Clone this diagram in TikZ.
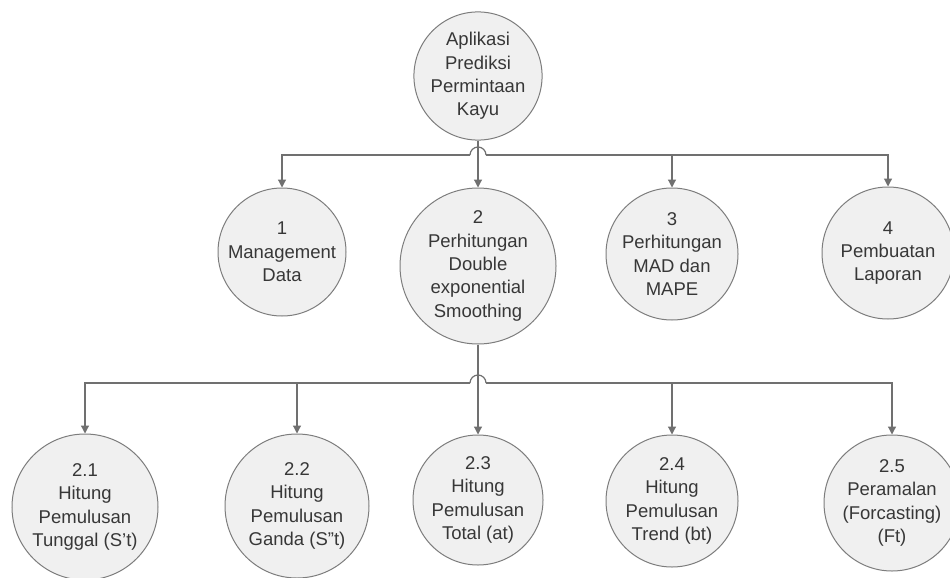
\documentclass[tikz,border=0pt]{standalone}
\usepackage{fontspec}
\setmainfont{Liberation Sans}
\usetikzlibrary{arrows.meta}
\definecolor{linegray}{RGB}{112,112,112}
\definecolor{edgegray}{RGB}{125,125,125}
\definecolor{fillgray}{RGB}{240,240,240}
\definecolor{textgray}{RGB}{55,55,55}
\tikzset{
  proc/.style={circle, draw=edgegray, line width=1pt, fill=fillgray, inner sep=0pt,
    align=center, text=textgray, font=\fontsize{18.5}{23.3}\selectfont},
  conn/.style={draw=linegray, line width=1.2pt, -{Triangle[width=8pt,length=8pt]}},
  busline/.style={draw=linegray, line width=1.2pt},
}
\begin{document}
\begin{tikzpicture}[x=1pt,y=-1pt]
\useasboundingbox (0,0) rectangle (950,578);
\fill[white] (0,0) rectangle (950,578);
% level 0
\node[proc, minimum size=122pt] (root) at (478,76) {Aplikasi\\Prediksi\\Permintaan\\Kayu};
% level 1
\node[proc, minimum size=128pt] (n1) at (282,252) {1\\Management\\Data};
\node[proc, minimum size=156pt] (n2) at (478,266) {2\\Perhitungan\\Double\\exponential\\Smoothing};
\node[proc, minimum size=132pt] (n3) at (672,254) {3\\Perhitungan\\MAD dan\\MAPE};
\node[proc, minimum size=132pt] (n4) at (888,253) {4\\Pembuatan\\Laporan};
% level 2
\node[proc, minimum size=146pt] (m1) at (85,507) {2.1\\Hitung\\Pemulusan\\Tunggal (S\char39 t)};
\node[proc, minimum size=144pt] (m2) at (297,506) {2.2\\Hitung\\Pemulusan\\Ganda (S\char34 t)};
\node[proc, minimum size=130pt] (m3) at (478,500) {2.3\\Hitung\\Pemulusan\\Total (at)};
\node[proc, minimum size=132pt] (m4) at (672,501) {2.4\\Hitung\\Pemulusan\\Trend (bt)};
\node[proc, minimum size=136pt] (m5) at (892,503) {2.5\\Peramalan\\(Forcasting)\\(Ft)};
% bus coordinates
\coordinate (aL) at (470,155);
\coordinate (aR) at (486,155);
\coordinate (bL) at (470,383);
\coordinate (bR) at (486,383);
% level 0 -> level 1
\draw[conn] (root.south) -- (n2.north);
\draw[busline] (aL) arc[start angle=180, end angle=0, radius=8pt];
\draw[conn] (aL) -| (n1.north);
\draw[conn] (aR) -| (n3.north);
\draw[conn] (aR) -| (n4.north);
% level 1 -> level 2
\draw[conn] (n2.south) -- (m3.north);
\draw[busline] (bL) arc[start angle=180, end angle=0, radius=8pt];
\draw[conn] (bL) -| (m1.north);
\draw[conn] (bL) -| (m2.north);
\draw[conn] (bR) -| (m4.north);
\draw[conn] (bR) -| (m5.north);
\end{tikzpicture}
\end{document}
